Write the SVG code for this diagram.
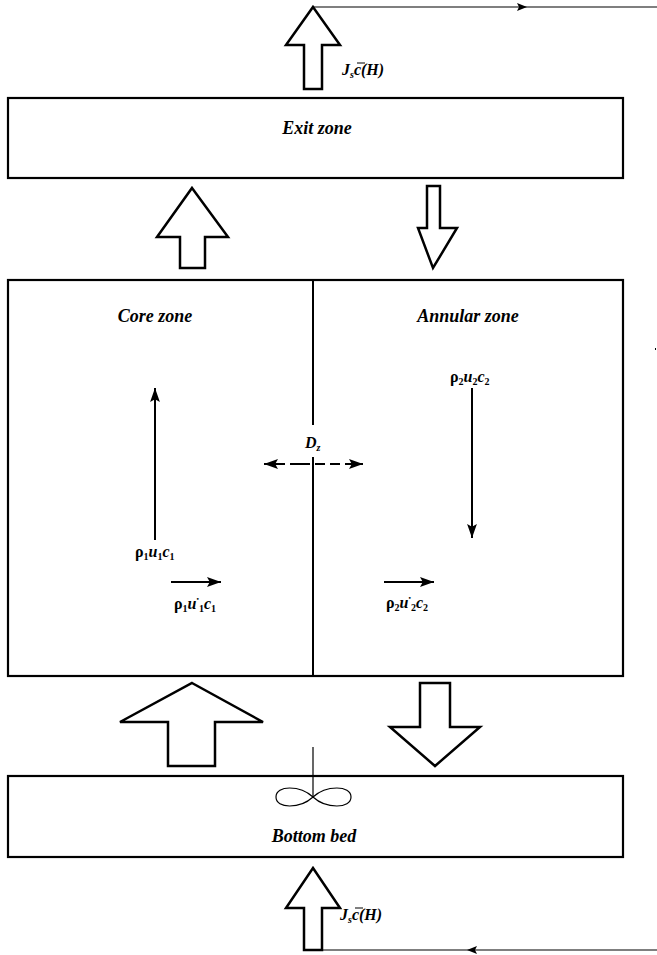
<svg xmlns="http://www.w3.org/2000/svg" width="657" height="955" viewBox="0 0 657 955">
<style>
.box{fill:#fff;stroke:#000;stroke-width:2.2}
.big{fill:#fff;stroke:#000;stroke-width:2.5;stroke-linejoin:miter}
.ln{stroke:#000;stroke-width:2;fill:none}
.thin{stroke:#000;stroke-width:1.2;fill:none}
text{font-family:'Liberation Serif','DejaVu Serif',serif;font-weight:bold;fill:#000}
.lbl{font-style:italic;font-size:18px}
.eq{font-size:16px}
.it{font-style:italic}
.sub{font-size:10px}
</style>
<defs>
<marker id="ah" viewBox="0 0 10 10" refX="10" refY="5" markerWidth="10" markerHeight="10" markerUnits="userSpaceOnUse" orient="auto">
<path d="M0,1 L10,5 L0,9 L2,5 Z" fill="#000"/>
</marker>
<marker id="ah2" viewBox="0 0 10 10" refX="10" refY="5" markerWidth="14" markerHeight="14" markerUnits="userSpaceOnUse" orient="auto">
<path d="M0,1.5 L10,5 L0,8.5 L2,5 Z" fill="#000"/>
</marker>
</defs>
<rect width="657" height="955" fill="#fff"/>

<g id="exit-zone">
<rect class="box" x="8" y="98" width="615" height="80"/>
<text class="lbl" x="317" y="134" text-anchor="middle">Exit zone</text>
</g>

<g id="core-annular">
<rect class="box" x="8" y="280" width="615" height="396"/>
<line class="ln" x1="313" y1="280" x2="313" y2="425"/>
<line class="ln" x1="313" y1="457" x2="313" y2="676"/>
</g>

<g id="core-zone">
<text class="lbl" x="155" y="322" text-anchor="middle">Core zone</text>
<text class="eq" x="135" y="557">ρ<tspan class="sub" dy="3">1</tspan><tspan class="it" dy="-3">u</tspan><tspan class="sub" dy="3">1</tspan><tspan class="it" dy="-3">c</tspan><tspan class="sub" dy="3">1</tspan></text>
<text class="eq" x="174" y="609">ρ<tspan class="sub" dy="3">1</tspan><tspan class="it" dy="-3">u</tspan><tspan font-size="7" dy="-8">•</tspan><tspan class="sub" dy="11">1</tspan><tspan class="it" dy="-3">c</tspan><tspan class="sub" dy="3">1</tspan></text>
</g>

<g id="annular-zone">
<text class="lbl" x="468" y="322" text-anchor="middle">Annular zone</text>
<text class="eq" x="450" y="382">ρ<tspan class="sub" dy="3">2</tspan><tspan class="it" dy="-3">u</tspan><tspan class="sub" dy="3">2</tspan><tspan class="it" dy="-3">c</tspan><tspan class="sub" dy="3">2</tspan></text>
<text class="eq" x="386" y="608">ρ<tspan class="sub" dy="3">2</tspan><tspan class="it" dy="-3">u</tspan><tspan font-size="7" dy="-8">•</tspan><tspan class="sub" dy="11">2</tspan><tspan class="it" dy="-3">c</tspan><tspan class="sub" dy="3">2</tspan></text>
</g>

<g id="dz-label">
<text class="eq it" x="305" y="448" font-size="17">D<tspan class="sub" dy="3">z</tspan></text>
</g>

<g id="bottom-bed">
<rect class="box" x="8" y="776" width="615" height="81"/>
<line class="thin" x1="313" y1="747" x2="313" y2="797"/>
<path class="thin" d="M313,797 C300,785 276,785 276,797 C276,809 300,809 313,797 C326,785 351,785 351,797 C351,809 326,809 313,797 Z"/>
<text class="lbl" x="314" y="842" text-anchor="middle">Bottom bed</text>
</g>

<g id="flux-top">
<text class="eq it" x="342" y="75">J<tspan class="sub" dy="3">s</tspan><tspan dy="-3">c</tspan>(H)</text>
<line x1="357" y1="63" x2="365" y2="63" stroke="#000" stroke-width="1"/>
</g>

<g id="flux-bottom">
<text class="eq it" x="340" y="920">J<tspan class="sub" dy="3">s</tspan><tspan dy="-3">c</tspan>(H)</text>
<line x1="355" y1="908" x2="363" y2="908" stroke="#000" stroke-width="1"/>
</g>

<g id="connectors">
<polygon class="big" points="313,7 340,45 322,45 322,89 304,89 304,45 286,45"/>
<polygon class="big" points="192,188 228,237 205,237 205,268 180,268 180,237 157,237"/>
<polygon class="big" points="427,186 440,186 440,228 457,228 433,268 418,228 427,228"/>
<polygon class="big" points="192,683 263,722 215,722 215,766 168,766 168,722 120,722"/>
<polygon class="big" points="420,683 450,683 450,727 480,727 435,766 390,727 420,727"/>
<polygon class="big" points="313,868 340,908 322,908 322,950 304,950 304,908 286,908"/>
<line class="thin" x1="313" y1="7" x2="527" y2="7" marker-end="url(#ah)"/>
<line class="thin" x1="527" y1="7" x2="657" y2="7"/>
<line class="thin" x1="657" y1="950" x2="467" y2="950" marker-end="url(#ah)"/>
<line class="thin" x1="467" y1="950" x2="322" y2="950"/>
<line class="ln" x1="155" y1="540" x2="155" y2="388" marker-end="url(#ah2)"/>
<line class="ln" x1="171" y1="582" x2="221" y2="582" marker-end="url(#ah2)"/>
<line class="ln" x1="472" y1="388" x2="472" y2="538" marker-end="url(#ah2)"/>
<line class="ln" x1="384" y1="582" x2="434" y2="582" marker-end="url(#ah2)"/>
<line class="ln" x1="300" y1="464" x2="264" y2="464" stroke-dasharray="10,5" marker-end="url(#ah2)"/>
<line class="ln" x1="300" y1="464" x2="363" y2="464" stroke-dasharray="10,5" marker-end="url(#ah2)"/>
</g>
<rect x="655" y="348" width="1" height="2" fill="#000"/>
</svg>
